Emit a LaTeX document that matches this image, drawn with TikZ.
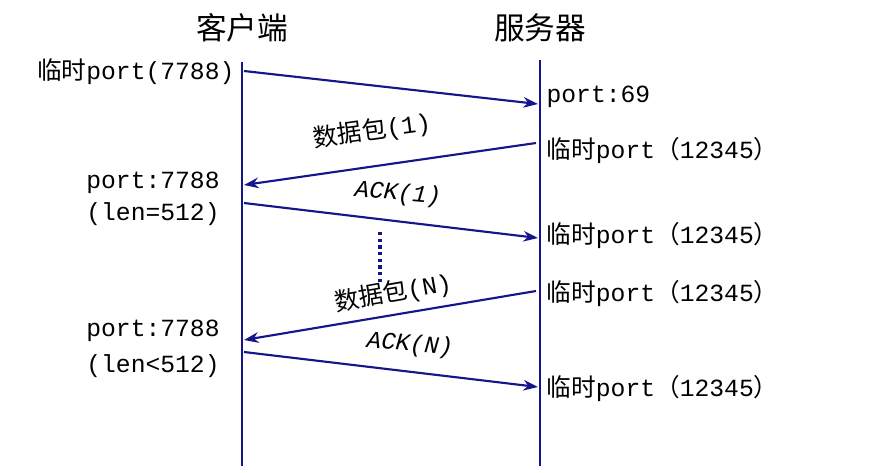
\documentclass[tikz,border=0pt]{standalone}
\usepackage{fontspec}
\setmainfont{Liberation Mono}
\newfontfamily\cjk{Noto Sans CJK SC}
\usetikzlibrary{arrows.meta}
\definecolor{navy}{RGB}{22,22,140}
\begin{document}
\begin{tikzpicture}[x=0.75pt,y=-0.75pt,
  life/.style={navy,line width=1.6pt},
  msg/.style={navy,line width=1.6pt,-{Stealth[length=11pt,width=8pt]}},
  lbl/.style={font=\fontsize{18.5}{20}\selectfont,inner sep=1pt},
  ttl/.style={font=\cjk\fontsize{23}{26}\selectfont}]
\useasboundingbox (0,0) rectangle (883,472);
\node[ttl] (c) at (242,28) {客户端};
\node[ttl] (s) at (540,28) {服务器};
\coordinate (ct) at (242,62); \coordinate (cb) at (242,466);
\coordinate (st) at (540,60); \coordinate (sb) at (540,466);
\draw[life] (ct)--(cb); \draw[life] (st)--(sb);
\coordinate (a1) at (244,71); \coordinate (b1) at (538,104);
\coordinate (a2) at (536,143); \coordinate (b2) at (244,185);
\coordinate (a3) at (244,203); \coordinate (b3) at (538,238);
\coordinate (a4) at (536,291); \coordinate (b4) at (244,340);
\coordinate (a5) at (244,352); \coordinate (b5) at (538,387);
\draw[msg] (a1)--(b1);
\draw[msg] (a2)--(b2);
\draw[msg] (a3)--(b3);
\draw[msg] (a4)--(b4);
\draw[msg] (a5)--(b5);
\coordinate (d1) at (380,232); \coordinate (d2) at (380,282);
\draw[navy,line width=3pt,dash pattern=on 2.5pt off 2.5pt] (d1)--(d2);
\node[lbl,anchor=east] (l1) at (236,72) {{\cjk 临时}port(7788)};
\node[lbl,anchor=west] (r1) at (545,97) {port:69};
\node[lbl,rotate=8] (m2) at (372,131) {{\cjk 数据包}(1)};
\node[lbl,anchor=west] (r2) at (545,150) {{\cjk 临时}port{\cjk （}12345{\cjk ）}};
\node[lbl] (l2) at (153,183) {port:7788};
\node[lbl] (l3) at (153,214) {(len=512)};
\node[lbl,rotate=-5,font=\fontsize{18}{20}\selectfont\itshape] (m3) at (398,194) {ACK(1)};
\node[lbl,anchor=west] (r3) at (545,235) {{\cjk 临时}port{\cjk （}12345{\cjk ）}};
\node[lbl,rotate=10] (m4) at (393,293) {{\cjk 数据包}(N)};
\node[lbl,anchor=west] (r4) at (545,293) {{\cjk 临时}port{\cjk （}12345{\cjk ）}};
\node[lbl] (l4) at (153,331) {port:7788};
\node[lbl] (l5) at (153,366) {(len<512)};
\node[lbl,rotate=-5,font=\fontsize{18}{20}\selectfont\itshape] (m5) at (410,345) {ACK(N)};
\node[lbl,anchor=west] (r5) at (545,388) {{\cjk 临时}port{\cjk （}12345{\cjk ）}};
\end{tikzpicture}
\end{document}
